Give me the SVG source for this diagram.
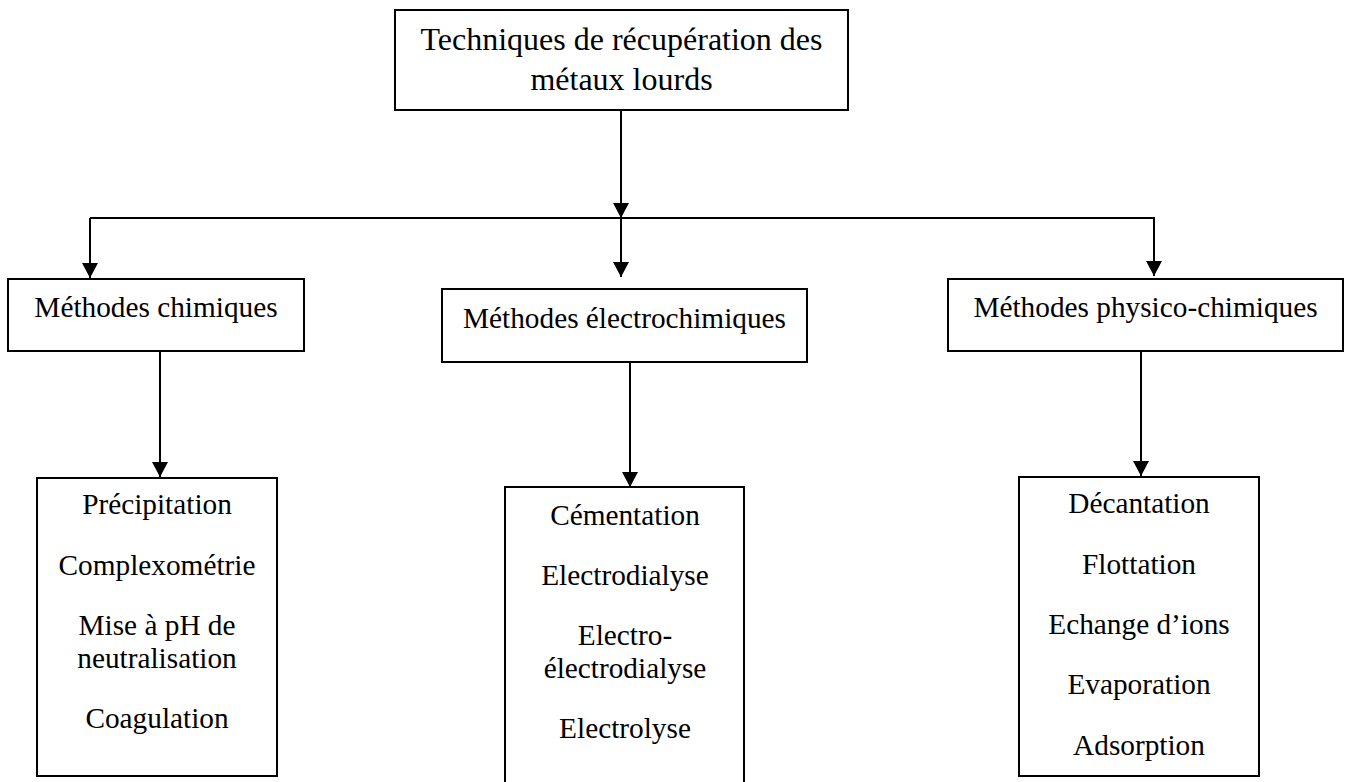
<svg xmlns="http://www.w3.org/2000/svg" width="1348" height="782" viewBox="0 0 1348 782">
<style>
.box{fill:#fff;stroke:#000;stroke-width:2}
.t{font-family:"Liberation Serif","Times New Roman",serif;font-size:29.3px;fill:#000;text-anchor:middle}
.tt{font-size:32px}
.c{fill:none;stroke:#000;stroke-width:2}
</style>
<defs>
<marker id="arr" markerUnits="userSpaceOnUse" markerWidth="16" markerHeight="16" viewBox="0 0 16 16" refX="15" refY="8" orient="auto">
<path d="M0,0 L15,8 L0,16 Z" fill="#000"/>
</marker>
</defs>
<rect width="1348" height="782" fill="#fff"/>
<g id="connectors">
<line class="c" x1="621" y1="110" x2="621" y2="218" marker-end="url(#arr)"/>
<line class="c" x1="90" y1="218" x2="1155" y2="218"/>
<line class="c" x1="90" y1="218" x2="90" y2="278" marker-end="url(#arr)"/>
<line class="c" x1="621" y1="218" x2="621" y2="277" marker-end="url(#arr)"/>
<line class="c" x1="1154" y1="218" x2="1154" y2="276" marker-end="url(#arr)"/>
<line class="c" x1="160" y1="351" x2="160" y2="477" marker-end="url(#arr)"/>
<line class="c" x1="630" y1="362" x2="630" y2="487" marker-end="url(#arr)"/>
<line class="c" x1="1141" y1="351" x2="1141" y2="476" marker-end="url(#arr)"/>
</g>
<g id="root">
<rect class="box" x="395" y="10" width="453" height="100"/>
<text class="t tt" x="621.5" y="50">Techniques de récupération des</text>
<text class="t tt" x="621.5" y="90">métaux lourds</text>
</g>
<g id="chimiques">
<rect class="box" x="8" y="279" width="296" height="72"/>
<text class="t" x="156" y="317">Méthodes chimiques</text>
</g>
<g id="electrochimiques">
<rect class="box" x="442" y="289" width="365" height="73"/>
<text class="t" x="624.5" y="328">Méthodes électrochimiques</text>
</g>
<g id="physicochimiques">
<rect class="box" x="948" y="279" width="395" height="72"/>
<text class="t" x="1145.5" y="317">Méthodes physico-chimiques</text>
</g>
<g id="list-chimiques">
<rect class="box" x="37" y="478" width="240" height="298"/>
<text class="t" x="157" y="514">Précipitation</text>
<text class="t" x="157" y="575">Complexométrie</text>
<text class="t" x="157" y="635">Mise à pH de</text>
<text class="t" x="157" y="668">neutralisation</text>
<text class="t" x="157" y="728">Coagulation</text>
</g>
<g id="list-electrochimiques">
<rect class="box" x="505" y="487" width="239" height="320"/>
<text class="t" x="625" y="525">Cémentation</text>
<text class="t" x="625" y="585">Electrodialyse</text>
<text class="t" x="625" y="645">Electro-</text>
<text class="t" x="625" y="678">électrodialyse</text>
<text class="t" x="625" y="738">Electrolyse</text>
</g>
<g id="list-physicochimiques">
<rect class="box" x="1019" y="477" width="240" height="299"/>
<text class="t" x="1139" y="513">Décantation</text>
<text class="t" x="1139" y="574">Flottation</text>
<text class="t" x="1139" y="634">Echange d’ions</text>
<text class="t" x="1139" y="694">Evaporation</text>
<text class="t" x="1139" y="755">Adsorption</text>
</g>
</svg>
